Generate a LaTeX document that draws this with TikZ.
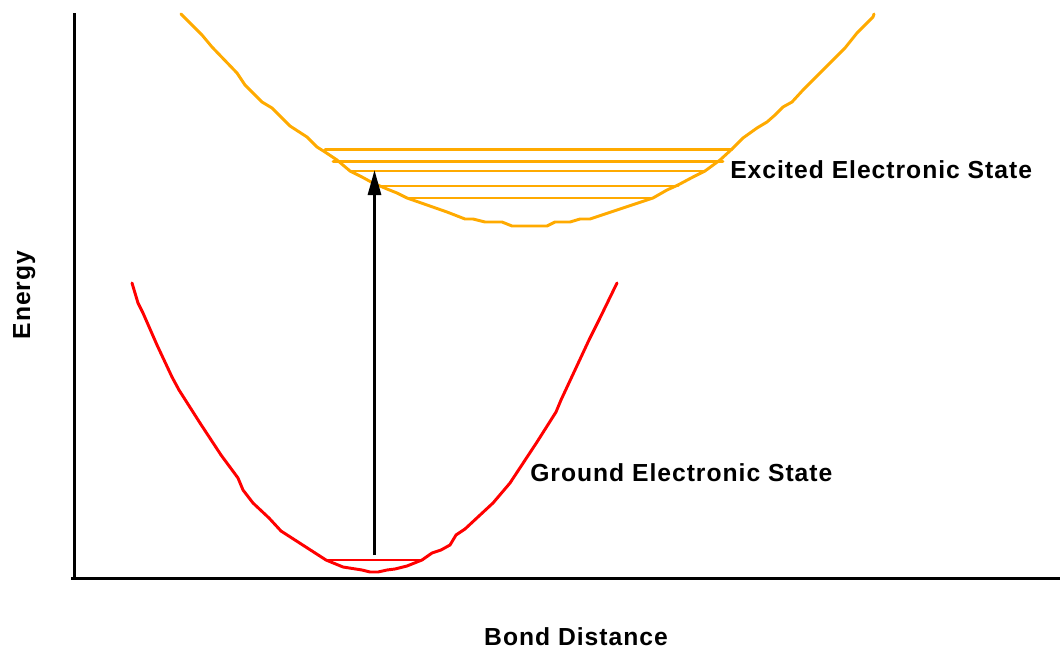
\documentclass[tikz,border=0pt]{standalone}
\usepackage{fontspec}
\setmainfont{Liberation Sans}
\newfontfamily\lblfont[LetterSpace=4]{Liberation Sans}
\usetikzlibrary{arrows.meta}
\definecolor{excited}{RGB}{255,170,0}
\definecolor{ground}{RGB}{255,0,0}
\begin{document}
\begin{tikzpicture}[x=0.75pt,y=-0.75pt,
  axis/.style={line width=2.25pt,black},
  excurve/.style={line width=2.2pt,excited,line join=round,line cap=round},
  grcurve/.style={line width=2.2pt,ground,line join=round,line cap=round},
  lbl/.style={font=\lblfont\fontsize{18.5}{21}\selectfont\bfseries,inner sep=0pt},
  transition/.style={line width=2.2pt,black,-{Triangle[length=18.75pt,width=9.75pt]}}]
\useasboundingbox (0,0) rectangle (1060,650);
% axes
\coordinate (ytop) at (74.5,13);
\coordinate (orig) at (74.5,578.5);
\coordinate (xend) at (1060,578.5);
\draw[axis] (ytop) -- (orig);
\draw[axis] (71,578.5) -- (xend);
% excited state curve
\draw[excurve] (181,14) -- (202,35) -- (212,47) -- (237,73) -- (245,85) -- (262,102) -- (272,108)
  -- (290,126) -- (307,137) -- (317,147) -- (325,152) -- (337,160) -- (350,171) -- (362,177)
  -- (373,183) -- (387,189) -- (397,193) -- (407,198) -- (447,212) -- (465,219) -- (473,219)
  -- (485,222) -- (502,222) -- (512,226) -- (547,226) -- (555,222) -- (570,222) -- (580,219)
  -- (590,219) -- (653,198) -- (667,190) -- (678,185) -- (693,177) -- (705,171) -- (720,160)
  -- (732,149) -- (743,138) -- (757,128) -- (767,122) -- (775,115) -- (783,107) -- (792,102)
  -- (803,90) -- (845,48) -- (857,33) -- (873,17) -- (874,14);
% excited vibrational levels
\draw[excurve] (325,149.5) -- (732,149.5);
\draw[excurve] (333,161.5) -- (723,161.5);
\draw[excurve] (350,171) -- (705,171);
\draw[excurve] (380,186) -- (678,186);
\draw[excurve] (407,198) -- (653,198);
% ground state curve
\draw[grcurve] (132,283) -- (138,303) -- (143,313) -- (157,345) -- (172,377) -- (179,390)
  -- (200,423) -- (221,455) -- (238,478) -- (243,490) -- (253,503) -- (269,518) -- (281,531)
  -- (326,560) -- (343,567) -- (362,570) -- (370,572) -- (378,572) -- (387,570) -- (395,569)
  -- (407,566) -- (422,560) -- (432,553) -- (441,550) -- (450,545) -- (456,535) -- (465,529)
  -- (493,503) -- (510,483) -- (537,442) -- (556,412) -- (561,400) -- (589,340) -- (599,320)
  -- (617,283);
\draw[grcurve] (326,560) -- (422,560);
% transition arrow
\coordinate (g0) at (374.5,555);
\coordinate (e0) at (374.5,170);
\draw[transition] (g0) -- (e0);
% labels
\node[lbl,anchor=base west] (exlbl) at (730,178) {Excited Electronic State};
\node[lbl,anchor=base west] (grlbl) at (530,481) {Ground Electronic State};
\node[lbl,anchor=base] (xlbl) at (576,645) {Bond Distance};
\node[lbl,anchor=base,rotate=90] (ylbl) at (30,295) {Energy};
\end{tikzpicture}
\end{document}
